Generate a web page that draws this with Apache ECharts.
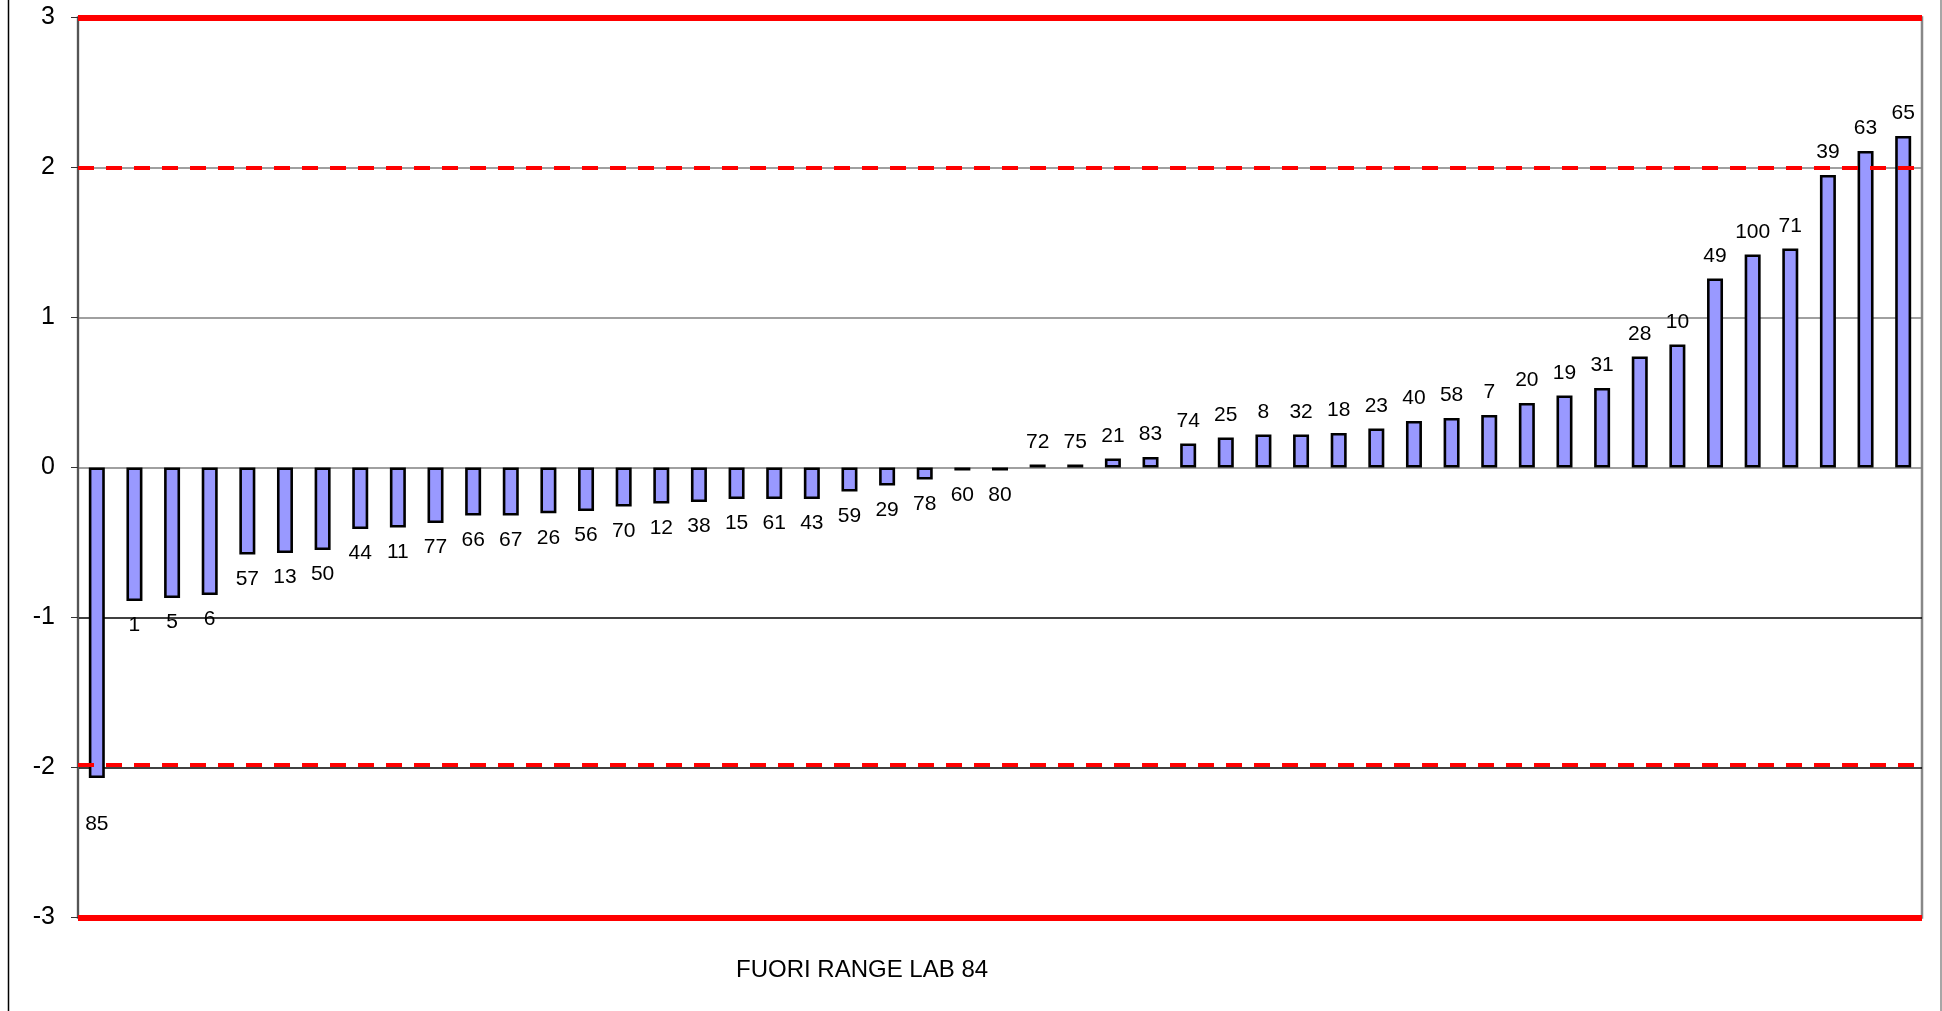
<!DOCTYPE html>
<html>
<head>
<meta charset="utf-8">
<script src="https://cdn.jsdelivr.net/npm/echarts@6/dist/echarts.min.js"></script>
<style>
html,body{margin:0;padding:0;background:#fff;}
#chart{width:1942px;height:1011px;}
</style>
</head>
<body>
<div id="chart"></div>
<script>
// Lab identifiers (sorted by z-score)
const labs = ['85','1','5','6','57','13','50','44','11','77','66','67','26','56','70','12','38','15','61','43','59','29','78','60','80',
              '72','75','21','83','74','25','8','32','18','23','40','58','7','20','19','31','28','10','49','100','71','39','63','65'];
// z-score values
const zScores = [-2.07,-0.89,-0.87,-0.85,-0.58,-0.57,-0.55,-0.41,-0.40,-0.37,-0.32,-0.32,-0.305,-0.29,-0.26,-0.24,-0.23,-0.21,-0.21,-0.21,-0.16,-0.12,-0.08,-0.02,-0.02,
                 0.02,0.02,0.06,0.07,0.16,0.20,0.22,0.22,0.23,0.26,0.31,0.33,0.35,0.43,0.48,0.53,0.74,0.82,1.26,1.42,1.46,1.95,2.11,2.21];
// Y axis ticks
const yTicks = [-3,-2,-1,0,1,2,3];
// Limits
const actionLimits = [3,-3];
const warningLimits = [2,-1.98];
const titleText = 'FUORI RANGE LAB 84';

const FONT = "'Liberation Sans', Arial, sans-serif";

const chart = echarts.init(document.getElementById('chart'), null, {renderer:'canvas'});

const barData = zScores.map((v, i) => {
  const neg = v < 0;
  let dist = neg ? 14 : 12;
  if (labs[i] === '85') dist = 36;
  return {
    value: v,
    label: { position: neg ? 'bottom' : 'top', distance: dist }
  };
});

const markData = [];
actionLimits.forEach(v => markData.push({
  yAxis: v,
  lineStyle: { color: '#ff0000', width: 6, type: 'solid' }
}));
warningLimits.forEach(v => markData.push({
  yAxis: v,
  lineStyle: { color: '#ff0000', width: 4, type: [16, 12] }
}));

const option = {
  animation: false,
  backgroundColor: '#ffffff',
  grid: {
    left: 78, right: 20, top: 17.5, bottom: 93.5,
    show: true, borderColor: '#888888', borderWidth: 2.5, backgroundColor: 'transparent'
  },
  xAxis: {
    type: 'category',
    data: labs,
    axisLine: { show: false },
    axisTick: { show: false },
    axisLabel: { show: false },
    splitLine: { show: false }
  },
  yAxis: {
    type: 'value',
    min: yTicks[0], max: yTicks[yTicks.length - 1], interval: 1,
    axisLine: { show: true, lineStyle: { color: '#555555', width: 2 } },
    axisTick: { show: true, length: 7, lineStyle: { color: '#333333', width: 1 } },
    axisLabel: { fontSize: 25, color: '#000', fontFamily: FONT, margin: 23 },
    splitLine: {
      show: true,
      lineStyle: { color: ['#808080', '#000000', '#000000', '#808080', '#808080', '#808080', '#808080'], width: 1.5 }
    }
  },
  series: [{
    type: 'bar',
    data: barData,
    barWidth: 16,
    itemStyle: { color: '#9999ff', borderColor: '#000000', borderWidth: 2.6 },
    label: {
      show: true,
      formatter: '{b}',
      fontSize: 21,
      lineHeight: 21,
      color: '#000',
      fontFamily: FONT
    },
    markLine: {
      silent: true,
      symbol: ['none', 'none'],
      label: { show: false },
      data: markData
    }
  }],
  graphic: [
    { type: 'line', shape: { x1: 8.5, y1: 0, x2: 8.5, y2: 1011 }, style: { stroke: '#000', lineWidth: 1.5 } },
    { type: 'line', shape: { x1: 1941, y1: 0, x2: 1941, y2: 1011 }, style: { stroke: '#888', lineWidth: 1.5 } },
    { type: 'text', left: 736, top: 958,
      style: { text: titleText, fontSize: 24, fontFamily: FONT, fill: '#000' } }
  ]
};

chart.setOption(option);
</script>
</body>
</html>
